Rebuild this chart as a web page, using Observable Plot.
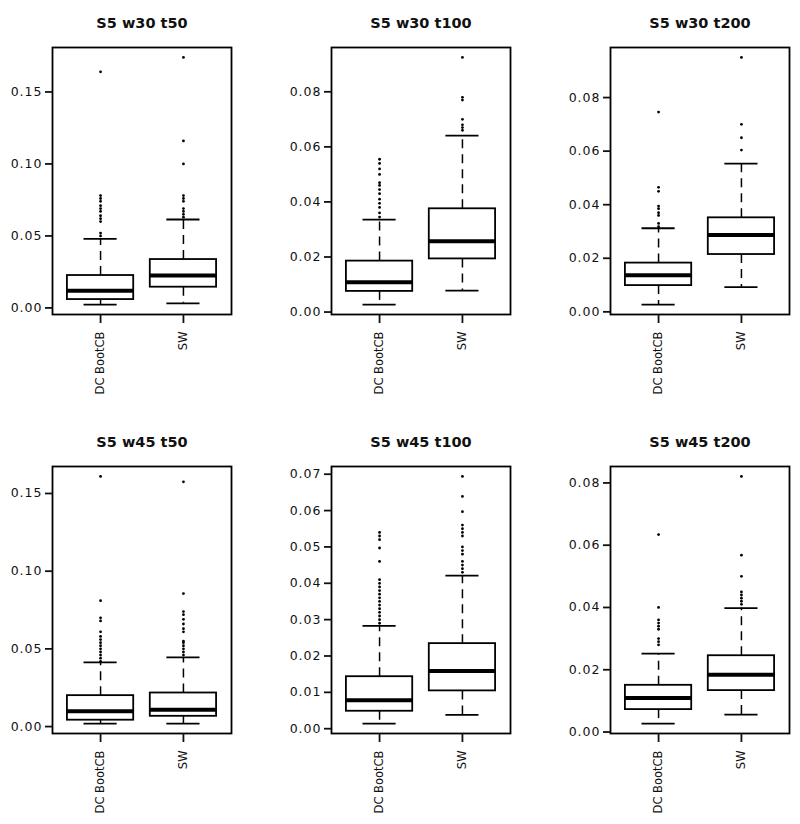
<!DOCTYPE html>
<html><head><meta charset="utf-8">
<script src="https://cdn.jsdelivr.net/npm/d3@7"></script>
<script src="https://cdn.jsdelivr.net/npm/@observablehq/plot@0.6"></script>
<style>
body{margin:0;background:#fff;}
#wrap{position:relative;width:800px;height:824px;overflow:hidden;background:#fff;}
#wrap > div{position:absolute;}
</style></head><body><div id="wrap"></div>
<script>
// ---- data ----
const groups = ["DC BootCB", "SW"];
const titles = ["S5 w30 t50", "S5 w30 t100", "S5 w30 t200", "S5 w45 t50", "S5 w45 t100", "S5 w45 t200"];
const yTicks = [
  [0, 0.05, 0.10, 0.15],
  [0, 0.02, 0.04, 0.06, 0.08],
  [0, 0.02, 0.04, 0.06, 0.08],
  [0, 0.05, 0.10, 0.15],
  [0, 0.01, 0.02, 0.03, 0.04, 0.05, 0.06, 0.07],
  [0, 0.02, 0.04, 0.06, 0.08]
];
// per panel: [DC BootCB, SW]
const lowerWhisker = [[0.0023, 0.0032], [0.0027, 0.0078], [0.0027, 0.0092], [0.0019, 0.0019], [0.0014, 0.0038], [0.0027, 0.0056]];
const q1Values     = [[0.0058, 0.0144], [0.0075, 0.0193], [0.0098, 0.0214], [0.0041, 0.0066], [0.0048, 0.0104], [0.0072, 0.0133]];
const medians      = [[0.0120, 0.0225], [0.0108, 0.0257], [0.0137, 0.0287], [0.0098, 0.0109], [0.0078, 0.0159], [0.0109, 0.0184]];
const q3Values     = [[0.0225, 0.0336], [0.0185, 0.0375], [0.0182, 0.0351], [0.0199, 0.0216], [0.0143, 0.0234], [0.0150, 0.0245]];
const upperWhisker = [[0.0480, 0.0614], [0.0336, 0.0641], [0.0312, 0.0553], [0.0413, 0.0445], [0.0283, 0.0421], [0.0252, 0.0398]];
const outliers = [
  [[0.050, 0.052, 0.060, 0.062, 0.064, 0.067, 0.069, 0.071, 0.074, 0.076, 0.078, 0.164],
   [0.063, 0.065, 0.067, 0.069, 0.074, 0.076, 0.078, 0.100, 0.116, 0.174]],
  [[0.0345, 0.036, 0.038, 0.0395, 0.041, 0.043, 0.0445, 0.046, 0.047, 0.050, 0.052, 0.054, 0.0555],
   [0.066, 0.067, 0.068, 0.070, 0.077, 0.078, 0.0925]],
  [[0.0318, 0.033, 0.036, 0.037, 0.0385, 0.0395, 0.045, 0.0465, 0.0746],
   [0.0604, 0.065, 0.070, 0.095]],
  [[0.042, 0.044, 0.046, 0.048, 0.050, 0.052, 0.054, 0.056, 0.058, 0.061, 0.068, 0.070, 0.081, 0.161],
   [0.046, 0.048, 0.050, 0.052, 0.054, 0.055, 0.061, 0.063, 0.066, 0.069, 0.072, 0.074, 0.0856, 0.1575]],
  [[0.029, 0.030, 0.031, 0.032, 0.033, 0.034, 0.035, 0.036, 0.037, 0.038, 0.039, 0.040, 0.041, 0.046, 0.0497, 0.052, 0.053, 0.054],
   [0.043, 0.044, 0.045, 0.046, 0.048, 0.049, 0.050, 0.053, 0.054, 0.055, 0.056, 0.0597, 0.0639, 0.0694]],
  [[0.028, 0.029, 0.030, 0.033, 0.034, 0.035, 0.036, 0.040, 0.0634],
   [0.041, 0.042, 0.043, 0.044, 0.045, 0.050, 0.0568, 0.0821]]
];

// ---- layout ----
const layout = {
  left: [2, 281, 560, 2, 281, 560],
  top: [5, 5, 5, 424, 424, 424],
  width: 237, height: 399, mL: 50, mR: 8, mT: 42, mB: 90
};

const wrap = document.getElementById("wrap");
titles.forEach((title, i) => {
  const boxes = groups.map((g, j) => ({
    pos: j + 1, lo: lowerWhisker[i][j], q1: q1Values[i][j], med: medians[i][j],
    q3: q3Values[i][j], hi: upperWhisker[i][j]
  }));
  const out = groups.flatMap((g, j) => outliers[i][j].map(v => ({pos: j + 1, v})));
  const allVals = boxes.flatMap(b => [b.lo, b.hi]).concat(out.map(d => d.v));
  const mn = d3.min(allVals), mx = d3.max(allVals), r = mx - mn;

  const chart = Plot.plot({
    width: layout.width, height: layout.height,
    marginLeft: layout.mL, marginRight: layout.mR, marginTop: layout.mT, marginBottom: layout.mB,
    x: {domain: [0.42, 2.58]},
    y: {domain: [mn - 0.04 * r, mx + 0.04 * r]},
    style: {fontFamily: "DejaVu Sans", fontSize: "12.5px", color: "#111", background: "white", overflow: "visible"},
    marks: [
      Plot.ruleX(boxes, {x: "pos", y1: "q3", y2: "hi", stroke: "black", strokeWidth: 1.5, strokeDasharray: "9,6"}),
      Plot.ruleX(boxes, {x: "pos", y1: "q1", y2: "lo", stroke: "black", strokeWidth: 1.5, strokeDasharray: "9,6"}),
      Plot.rect(boxes, {x1: d => d.pos - 0.4, x2: d => d.pos + 0.4, y1: "q1", y2: "q3", fill: "white", stroke: "black", strokeWidth: 1.8}),
      Plot.ruleY(boxes, {y: "med", x1: d => d.pos - 0.4, x2: d => d.pos + 0.4, stroke: "black", strokeWidth: 4}),
      Plot.ruleY(boxes, {y: "lo", x1: d => d.pos - 0.2, x2: d => d.pos + 0.2, stroke: "black", strokeWidth: 1.8}),
      Plot.ruleY(boxes, {y: "hi", x1: d => d.pos - 0.2, x2: d => d.pos + 0.2, stroke: "black", strokeWidth: 1.8}),
      Plot.dot(out, {x: "pos", y: "v", r: 1.4, fill: "black", stroke: null}),
      Plot.frame({stroke: "black", strokeWidth: 1.8}),
      Plot.axisY({ticks: yTicks[i], tickFormat: d3.format(".2f"), tickSize: 7, tickPadding: 3, label: null, strokeWidth: 1.8}),
      Plot.axisX({ticks: [1, 2], tickFormat: d => groups[d - 1], tickRotate: -90, tickSize: 9, tickPadding: 8, label: null, fontSize: 11.5, strokeWidth: 1.8}),
      Plot.text([title], {text: d => d, frameAnchor: "top", dy: -30, fontWeight: "bold", fontSize: 14.5, fill: "#111"})
    ]
  });
  const holder = document.createElement("div");
  holder.style.left = layout.left[i] + "px";
  holder.style.top = layout.top[i] + "px";
  holder.appendChild(chart);
  wrap.appendChild(holder);
  const yl = chart.querySelector('[aria-label="y-axis tick label"]');
  if (yl) yl.style.letterSpacing = "1px";
});
</script>
</body></html>
